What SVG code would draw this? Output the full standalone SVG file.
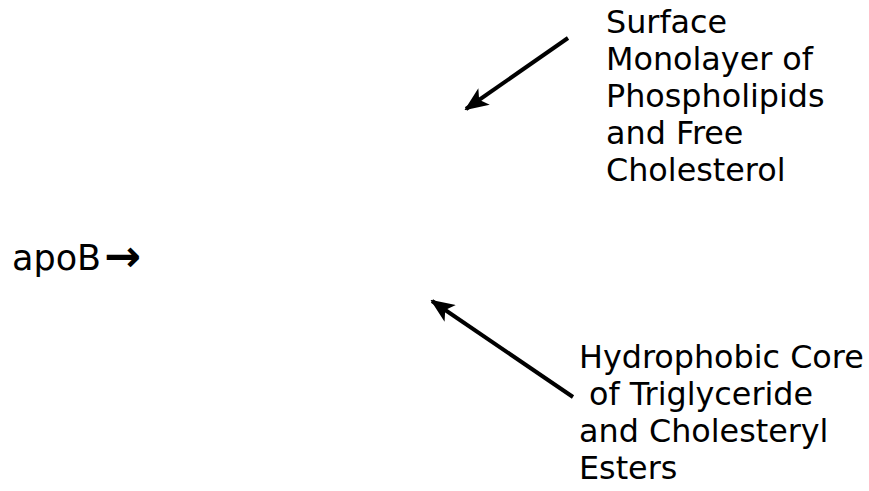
<svg xmlns="http://www.w3.org/2000/svg" width="869" height="491" viewBox="0 0 869 491">
<style>
.t{font-family:"DejaVu Sans",Verdana,sans-serif;font-size:31.8px;fill:#000}
.c{stroke:#000;stroke-width:4;fill:none}
</style>
<defs>
<marker id="ah2" viewBox="0 0 24 20" refX="22" refY="10" markerWidth="24" markerHeight="20" markerUnits="userSpaceOnUse" orient="auto">
<path d="M0,0 L24,10 L0,20 L6,10 Z" fill="#000"/>
</marker>
</defs>
<rect width="869" height="491" fill="#fff"/>
<g id="connectors">
<line class="c" x1="568" y1="38" x2="466" y2="109" marker-end="url(#ah2)"/>
<line class="c" x1="573" y1="397" x2="432" y2="301" marker-end="url(#ah2)"/>
</g>
<g id="apoB">
<text class="t" x="12" y="270" style="font-size:35px">apoB<tspan style="font-size:44px;font-weight:bold" dx="3" dy="1">→</tspan></text>
</g>
<g id="surface">
<text class="t" x="606" y="33">Surface</text>
<text class="t" x="606" y="70">Monolayer of</text>
<text class="t" x="606" y="107">Phospholipids</text>
<text class="t" x="606" y="144">and Free</text>
<text class="t" x="606" y="181">Cholesterol</text>
</g>
<g id="core">
<text class="t" x="579" y="368">Hydrophobic Core</text>
<text class="t" x="579" y="405" xml:space="preserve"> of Triglyceride</text>
<text class="t" x="579" y="442">and Cholesteryl</text>
<text class="t" x="579" y="479">Esters</text>
</g>
</svg>
